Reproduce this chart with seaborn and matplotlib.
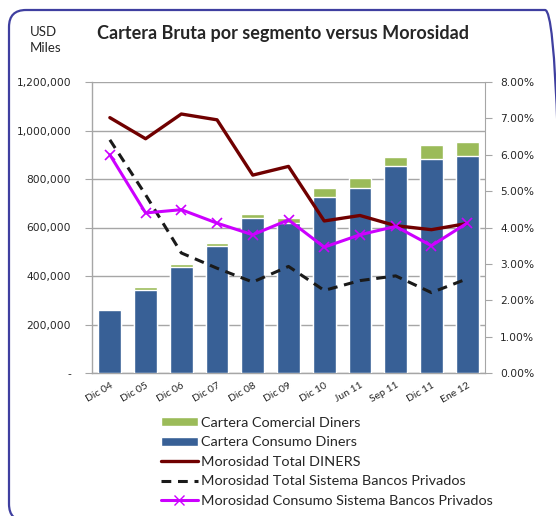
import matplotlib

matplotlib.use("Agg")
import matplotlib.pyplot as plt
import numpy as np
import pandas as pd
import seaborn as sns
from matplotlib.lines import Line2D
from matplotlib.patches import FancyBboxPatch, Patch
from matplotlib.ticker import FuncFormatter, MultipleLocator

# data
periods = ["Dic 04", "Dic 05", "Dic 06", "Dic 07", "Dic 08", "Dic 09",
           "Dic 10", "Jun 11", "Sep 11", "Dic 11", "Ene 12"]
consumo = [260000, 343000, 438000, 522000, 639000, 619000,
           726000, 764000, 854000, 883000, 896000]
comercial = [3000, 13000, 11000, 14000, 17000, 21000,
             37000, 40000, 38000, 57000, 58000]
mora_diners = [7.02, 6.44, 7.12, 6.96, 5.44, 5.68, 4.18, 4.33, 4.05, 3.94, 4.11]
mora_sistema = [6.41, 4.90, 3.30, 2.88, 2.50, 2.93, 2.27, 2.54, 2.67, 2.21, 2.59]
mora_consumo_sistema = [6.00, 4.40, 4.49, 4.12, 3.80, 4.21, 3.46, 3.80, 4.03, 3.50, 4.12]

BLUE = "#386096"
GREEN = "#9BBB59"
MAROON = "#700000"
MAGENTA = "#CC00FF"
GRAY = "#A6A6A6"
DASH = (0, (3.2, 2.2))

df = pd.DataFrame({
    "periodo": periods,
    "consumo": consumo,
    "total": np.array(consumo) + np.array(comercial),
    "pos": np.arange(len(periods)),
    "diners": mora_diners,
    "sistema": mora_sistema,
    "consumo_sis": mora_consumo_sistema,
})

sns.set_style("white")
plt.rcParams["font.family"] = ["DejaVu Sans"]

fig = plt.figure(figsize=(5.56, 5.16), dpi=100)
ax = fig.add_axes([92 / 556, 1 - 373 / 516, 393 / 556, 291 / 516])

# stacked bars: total (green) behind, consumo (blue) in front
sns.barplot(data=df, x="periodo", y="total", color=GREEN, width=0.64,
            saturation=1, ax=ax, zorder=2)
sns.barplot(data=df, x="periodo", y="consumo", color=BLUE, width=0.64,
            saturation=1, ax=ax, zorder=3)

ax.set_xlim(-0.5, len(periods) - 0.5)
ax.set_ylim(0, 1200000)
ax.yaxis.set_major_locator(MultipleLocator(200000))
ax.yaxis.set_major_formatter(FuncFormatter(lambda v, _: "-" if v == 0 else f"{v:,.0f}"))
ax.grid(axis="y", color=GRAY, lw=1, zorder=0)
ax.set_axisbelow(True)
ax.set_xlabel("")
ax.set_ylabel("")
for side in ["left", "bottom"]:
    ax.spines[side].set_color(GRAY)
    ax.spines[side].set_linewidth(1)
ax.spines["top"].set_visible(False)
ax.spines["right"].set_visible(False)
ax.tick_params(axis="y", left=True, length=5, color=GRAY, pad=10, labelsize=7.7)
ax.tick_params(axis="x", bottom=False, pad=2)
for lbl in ax.get_xticklabels():
    lbl.set_rotation(30)
    lbl.set_ha("right")
    lbl.set_rotation_mode("anchor")
    lbl.set_fontfamily("Lato")
    lbl.set_fontsize(7.5)

# morosidad lines on the right axis
ax2 = ax.twinx()
sns.lineplot(data=df, x="pos", y="diners", color=MAROON, lw=2.4, ax=ax2, zorder=4)
sns.lineplot(data=df, x="pos", y="sistema", color="#1A1A1A", lw=2.2,
             linestyle=DASH, ax=ax2, zorder=4)
sns.lineplot(data=df, x="pos", y="consumo_sis", color=MAGENTA, lw=2.2,
             marker="x", markersize=7, markeredgewidth=1.2,
             markeredgecolor=MAGENTA, ax=ax2, zorder=5)
ax2.set_ylim(0, 8)
ax2.set_xlim(-0.5, len(periods) - 0.5)
ax2.yaxis.set_major_locator(MultipleLocator(1))
ax2.yaxis.set_major_formatter(FuncFormatter(lambda v, _: f"{v:.2f}%"))
ax2.set_xlabel("")
ax2.set_ylabel("")
for side in ["top", "left", "bottom"]:
    ax2.spines[side].set_visible(False)
ax2.spines["right"].set_color(GRAY)
ax2.tick_params(axis="y", right=True, length=5, color=GRAY, pad=6, labelsize=7.7)
ax2.grid(False)

# titles
fig.text(283 / 556, 1 - 33 / 516, "Cartera Bruta por segmento versus Morosidad",
         ha="center", va="center", fontsize=13, fontweight="bold", family="Lato")
fig.text(30 / 556, 1 - 40 / 516, "USD\nMiles", ha="left", va="center",
         fontsize=9.5, family="Lato", linespacing=1.35)

# legend below the plot
handles = [
    Patch(facecolor=GREEN, label="Cartera Comercial Diners"),
    Patch(facecolor=BLUE, label="Cartera Consumo Diners"),
    Line2D([], [], color=MAROON, lw=2.4, label="Morosidad Total DINERS"),
    Line2D([], [], color="#1A1A1A", lw=2.2, linestyle=DASH,
           label="Morosidad Total Sistema Bancos Privados"),
    Line2D([], [], color=MAGENTA, lw=2.2, marker="x", markersize=7,
           label="Morosidad Consumo Sistema Bancos Privados"),
]
fig.legend(handles=handles, loc="upper left", bbox_to_anchor=(155 / 556, 1 - 411 / 516),
           frameon=False, prop={"family": "Lato", "size": 10.4}, handlelength=2.55,
           handleheight=0.55, handletextpad=0.25, labelspacing=0.52, borderaxespad=0)

# rounded outer frame (right and bottom edges run just past the image)
frame = FancyBboxPatch((0.09, -0.05), 5.53, 5.11, boxstyle="round,pad=0,rounding_size=0.17",
                       transform=fig.dpi_scale_trans, facecolor="none",
                       edgecolor="#3F3FA0", lw=1.6, zorder=10)
fig.patches.append(frame)

fig.savefig("out.png", dpi=100)
